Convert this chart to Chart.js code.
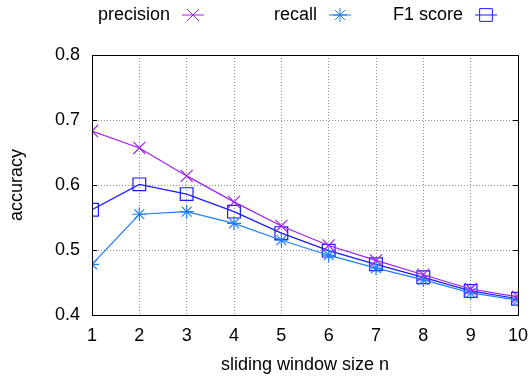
<!DOCTYPE html>
<html>
<head>
<meta charset="utf-8">
<script src="https://cdn.jsdelivr.net/npm/chart.js@4"></script>
<style>
  html, body { margin: 0; padding: 0; background: #fff; }
  canvas { display: block; }
</style>
</head>
<body>
<canvas id="chart" width="532" height="380"></canvas>
<script>
// window sizes and scores
const windowSizes = [1, 2, 3, 4, 5, 6, 7, 8, 9, 10];
const precision = [0.683, 0.657, 0.614, 0.574, 0.537, 0.507, 0.484, 0.462, 0.440, 0.428];
const recall    = [0.478, 0.555, 0.559, 0.541, 0.515, 0.492, 0.472, 0.454, 0.434, 0.423];
const f1score   = [0.562, 0.601, 0.586, 0.559, 0.526, 0.499, 0.478, 0.458, 0.437, 0.425];
const yTicks = [0.4, 0.5, 0.6, 0.7, 0.8];

const FONT = '"Liberation Sans", Arial, sans-serif';
const SIZE = 18;

// gnuplot style key along the top: text, then a line sample with the marker
const topKey = {
    id: 'topKey',
    afterDraw(chart) {
        const ctx = chart.ctx;
        const textRight = [170, 317, 463];
        const y = 15;
        ctx.save();
        ctx.font = SIZE + 'px ' + FONT;
        ctx.textAlign = 'right';
        ctx.textBaseline = 'middle';
        chart.data.datasets.forEach((ds, i) => {
            ctx.fillStyle = '#000';
            ctx.fillText(ds.label, textRight[i], y);
            const x0 = textRight[i] + 12, x1 = x0 + 22;
            ctx.strokeStyle = ds.borderColor;
            ctx.fillStyle = 'rgba(0,0,0,0)';
            ctx.lineWidth = 1;
            ctx.beginPath();
            ctx.moveTo(x0, y);
            ctx.lineTo(x1, y);
            ctx.stroke();
            Chart.helpers.drawPoint(ctx, {
                pointStyle: ds.pointStyle, radius: ds.pointRadius, rotation: 0, borderWidth: 1
            }, (x0 + x1) / 2, y);
        });
        ctx.restore();
    }
};

// black frame around the plot plus small inward ticks on the y axis
const frame = {
    id: 'frame',
    afterDatasetsDraw(chart) {
        const { ctx, chartArea: a, scales } = chart;
        ctx.save();
        ctx.strokeStyle = '#000';
        ctx.lineWidth = 1;
        ctx.beginPath();
        scales.y.ticks.forEach(t => {
            const py = Math.round(scales.y.getPixelForValue(t.value)) + 0.5;
            ctx.moveTo(a.left, py); ctx.lineTo(a.left + 5, py);
            ctx.moveTo(a.right, py); ctx.lineTo(a.right - 5, py);
        });
        ctx.stroke();
        ctx.strokeRect(Math.round(a.left) + 0.5, Math.round(a.top) + 0.5,
            Math.round(a.right - a.left), Math.round(a.bottom - a.top));
        ctx.restore();
    }
};

function series(label, data, color, style, radius) {
    return {
        label: label,
        data: data,
        borderColor: color,
        backgroundColor: 'transparent',
        borderWidth: 1.2,
        pointStyle: style,
        pointRadius: radius,
        pointHoverRadius: radius,
        pointBorderWidth: 1.2,
        pointBorderColor: color,
        pointBackgroundColor: 'transparent',
        tension: 0
    };
}

new Chart(document.getElementById('chart'), {
    type: 'line',
    data: {
        labels: windowSizes,
        datasets: [
            series('precision', precision, '#a020f0', 'crossRot', 8.5),
            series('recall', recall, '#1e7fff', 'star', 7),
            series('F1 score', f1score, '#1a1aff', 'rect', 9)
        ]
    },
    options: {
        responsive: false,
        animation: false,
        layout: { padding: { top: 55, right: 14, left: 0, bottom: 0 } },
        plugins: {
            legend: { display: false },
            tooltip: { enabled: false }
        },
        scales: {
            x: {
                type: 'linear',
                min: 1,
                max: 10,
                afterBuildTicks: s => { s.ticks = windowSizes.map(v => ({ value: v })); },
                afterFit: s => { s.height = 65; s.paddingRight = 0; s.paddingLeft = 0; },
                grid: { color: '#909090', tickLength: 0, drawTicks: false },
                border: { display: false, dash: [1, 2] },
                ticks: { color: '#000', padding: 10, font: { family: FONT, size: SIZE } },
                title: { display: true, text: 'sliding window size n', color: '#000', padding: { top: 8 }, font: { family: FONT, size: SIZE } }
            },
            y: {
                min: 0.4,
                max: 0.8,
                afterBuildTicks: s => { s.ticks = yTicks.map(v => ({ value: v })); },
                afterFit: s => { s.width = 92; },
                grid: { color: '#909090', tickLength: 0, drawTicks: false },
                border: { display: false, dash: [1, 2] },
                ticks: { color: '#000', padding: 12, font: { family: FONT, size: SIZE }, callback: v => v.toFixed(1) },
                title: { display: true, text: 'accuracy', color: '#000', padding: { top: 6, bottom: 0 }, font: { family: FONT, size: SIZE } }
            }
        }
    },
    plugins: [topKey, frame]
});
</script>
</body>
</html>
